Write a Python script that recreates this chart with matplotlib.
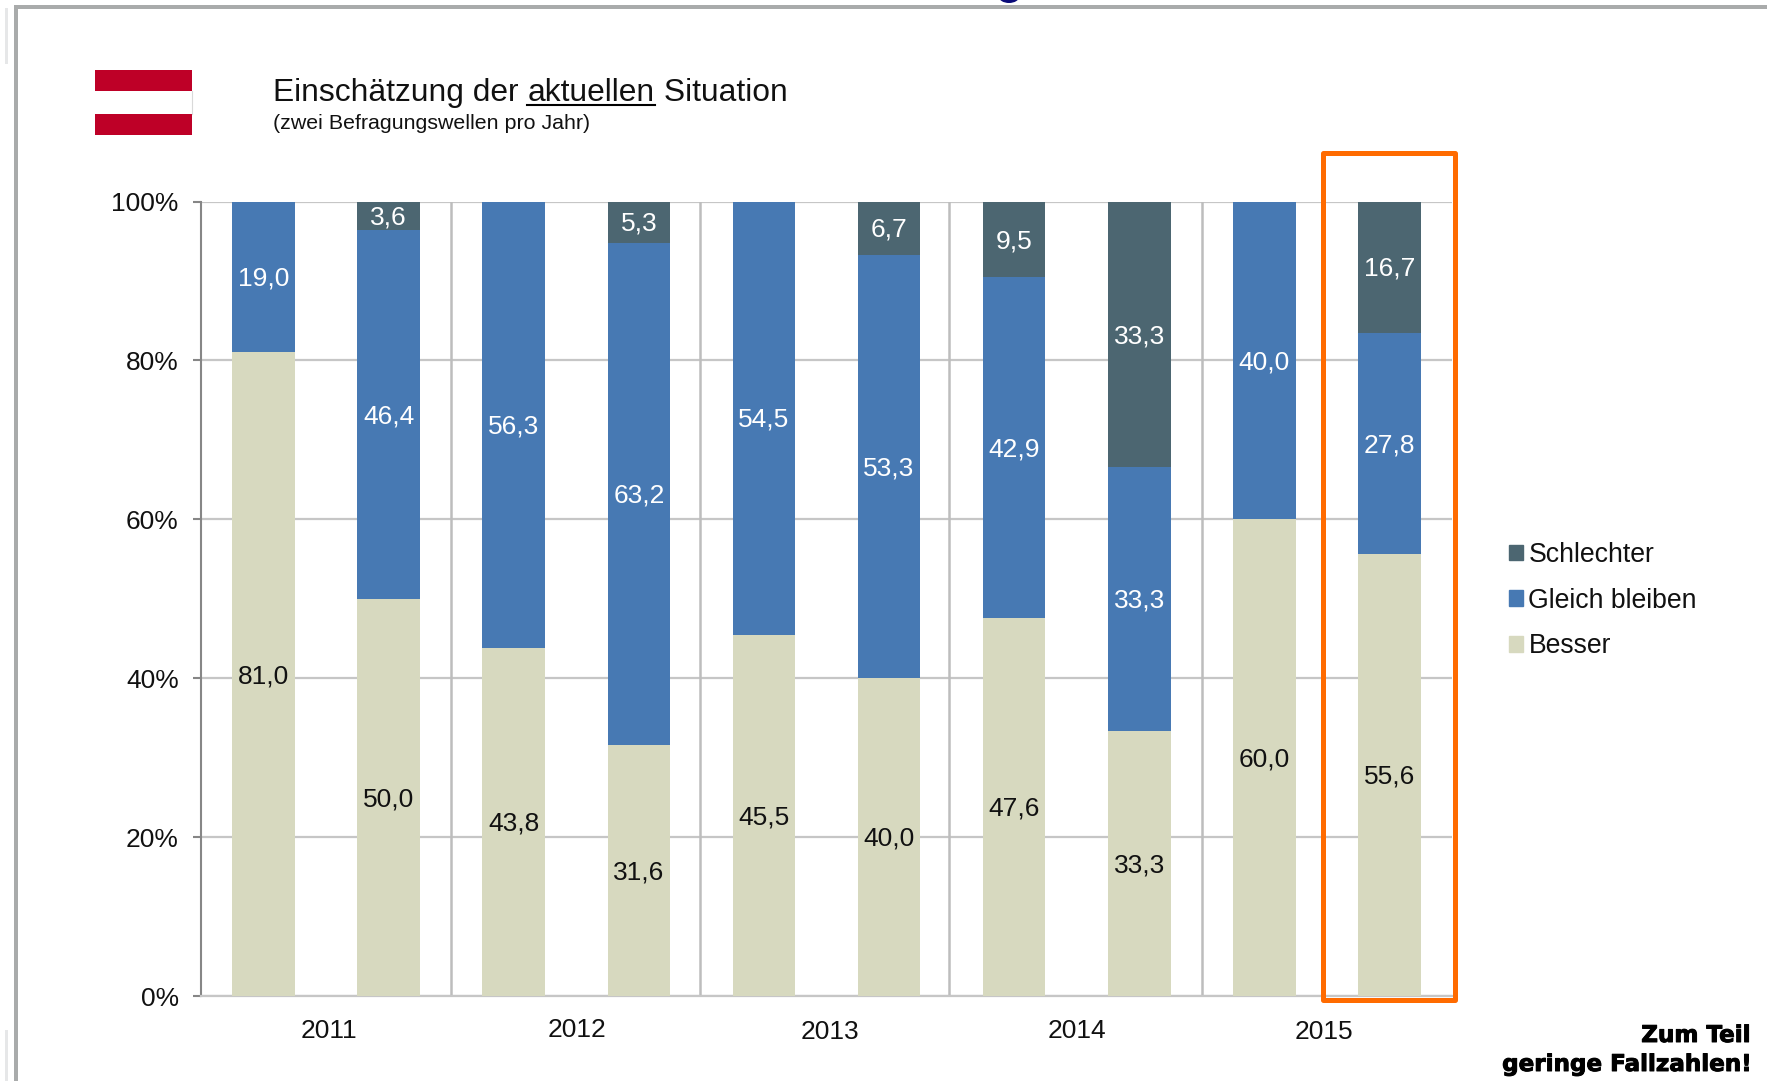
import matplotlib
matplotlib.use('Agg')
import matplotlib.pyplot as plt
import matplotlib.patheffects as pe
from matplotlib.lines import Line2D
from matplotlib.patches import Patch, Rectangle, Ellipse
import numpy as np

W, H = 1767, 1081

years = ['2011', '2012', '2013', '2014', '2015']
besser = [81.0, 50.0, 43.8, 31.6, 45.5, 40.0, 47.6, 33.3, 60.0, 55.6]
gleich = [19.0, 46.4, 56.3, 63.2, 54.5, 53.3, 42.9, 33.3, 40.0, 27.8]
schlechter = [0, 3.6, 0, 5.3, 0, 6.7, 9.5, 33.3, 0, 16.7]
year_x = [329, 577, 830, 1077, 1324]
year_y = [1038, 1037, 1039, 1038, 1039]

C_BESSER = '#D7D9BF'
C_GLEICH = '#4779B3'
C_SCHLECHT = '#4C6671'
C_GRID = '#C6C6C6'
C_ORANGE = '#FF6B00'

plt.rcParams['font.family'] = ['Liberation Sans', 'DejaVu Sans']

fig = plt.figure(figsize=(W / 100, H / 100), dpi=100)

# full figure overlay in pixel coords, y down
bg = fig.add_axes([0, 0, 1, 1], zorder=0)
bg.set_xlim(0, W)
bg.set_ylim(H, 0)
bg.axis('off')

# slide frame
bg.add_patch(Rectangle((14, 5), W - 14, 3.5, color='#A9ABAB', lw=0))
bg.add_patch(Rectangle((14, 5), 4, H - 5, color='#A9ABAB', lw=0))
bg.add_patch(Rectangle((5, 8), 3, 56, color='#E6E7E8', lw=0))
bg.add_patch(Rectangle((5, 1030), 3, 51, color='#E6E7E8', lw=0))
# bottom of the cut off headline
bg.add_patch(Ellipse((1009, -3), 20, 12, color='#0A0A78', lw=0))

# flag
bg.add_patch(Rectangle((95, 70), 97, 65, facecolor='white', edgecolor='none'))
bg.add_patch(Rectangle((95, 70), 97, 21, color='#BE0027', lw=0))
bg.add_patch(Rectangle((95, 114), 97, 21, color='#BE0027', lw=0))
bg.add_line(Line2D([192, 192], [91, 114], color='#D9D9D9', lw=0.8))

# headline, the middle word is underlined
renderer = fig.canvas.get_renderer()
x_pos = 273
for part in ['Einschätzung der ', 'aktuellen', ' Situation']:
    t = bg.text(x_pos, 101, part.replace(' ', '\u00a0'), fontsize=22.9, color='#111111', va='baseline', ha='left')
    bb = t.get_window_extent(renderer)
    if part == 'aktuellen':
        bg.add_line(Line2D([x_pos, x_pos + bb.width], [105, 105], color='black', lw=1.5))
    x_pos += bb.width
bg.text(273, 129, '(zwei Befragungswellen pro Jahr)', fontsize=15.4, color='#111111', va='baseline')

# chart
left, right, top, bottom = 201, 1452, 201.5, 996
ax = fig.add_axes([left / W, 1 - bottom / H, (right - left) / W, (bottom - top) / H], zorder=1)
ax.patch.set_alpha(0)
x = np.arange(len(besser))
ax.set_xlim(-0.5, 9.5)
ax.set_ylim(0, 100)
b = np.array(besser)
g = np.array(gleich)
s = np.array(schlechter)
ax.bar(x, b, width=0.5, color=C_BESSER, zorder=3)
ax.bar(x, g, bottom=b, width=0.5, color=C_GLEICH, zorder=3)
ax.bar(x, s, bottom=b + g, width=0.5, color=C_SCHLECHT, zorder=3)


def bar_label(i, y, val, col):
    ax.annotate(f'{val:.1f}'.replace('.', ','), (i, y), xytext=(0, -1.3), textcoords='offset points',
                ha='center', va='center', fontsize=19, color=col, zorder=4)


for i in x:
    bar_label(i, b[i] / 2, b[i], '#111111')
    bar_label(i, b[i] + g[i] / 2, g[i], 'white')
    if s[i] > 0:
        bar_label(i, b[i] + g[i] + s[i] / 2, s[i], 'white')

ax.set_yticks(np.arange(0, 101, 20))
ax.set_yticklabels([f'{v}%' for v in range(0, 101, 20)], fontsize=19, color='#111111')
ax.tick_params(axis='y', length=6, width=1.5, color='#868686', pad=10)
ax.set_xticks([])
ax.grid(axis='y', color=C_GRID, lw=1.6, zorder=1)
ax.set_axisbelow(True)
for sp in ['top', 'right']:
    ax.spines[sp].set_visible(False)
ax.spines['left'].set_color('#868686')
ax.spines['left'].set_linewidth(1.5)
ax.spines['bottom'].set_color(C_GRID)
ax.spines['bottom'].set_linewidth(1.6)
# year separators
for d in [1.5, 3.49, 5.48, 7.5]:
    ax.axvline(d, color='#BDBDBD', lw=1.8, zorder=1)

for lab, px, py in zip(years, year_x, year_y):
    bg.text(px, py, lab, fontsize=19, ha='center', va='baseline', color='#111111')

# highlight box
over = fig.add_axes([0, 0, 1, 1], zorder=2)
over.set_xlim(0, W)
over.set_ylim(H, 0)
over.axis('off')
over.add_patch(Rectangle((1322.5, 153), 132, 847, fill=False, edgecolor=C_ORANGE, lw=3.6, joinstyle='round'))

# legend
handles = [Patch(color=C_SCHLECHT), Patch(color=C_GLEICH), Patch(color=C_BESSER)]
over.legend(handles, ['Schlechter', 'Gleich bleiben', 'Besser'], loc='upper left',
            bbox_to_anchor=(1509 / W, 1 - 542 / H), bbox_transform=fig.transFigure, frameon=False, fontsize=19.2,
            handlelength=0.53, handleheight=0.53, handletextpad=0.2, labelspacing=0.74,
            borderpad=0, borderaxespad=0, labelcolor='#111111')

# note, heavy type
heavy = [pe.withStroke(linewidth=0.7, foreground='black')]
over.text(1750, 1042, 'Zum Teil', fontsize=16.6, fontweight='bold', family='DejaVu Sans', ha='right', va='baseline', path_effects=heavy)
over.text(1750, 1071, 'geringe Fallzahlen!', fontsize=16.6, fontweight='bold', family='DejaVu Sans', ha='right', va='baseline', path_effects=heavy)

fig.savefig('out.png', dpi=100)
